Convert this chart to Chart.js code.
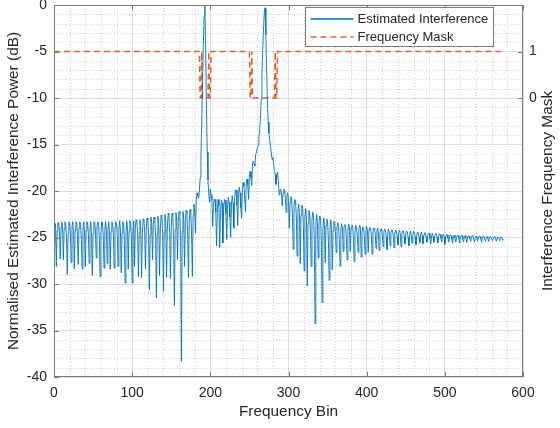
<!DOCTYPE html>
<html>
<head>
<meta charset="utf-8">
<script src="https://cdn.jsdelivr.net/npm/chart.js@4.4.1/dist/chart.umd.min.js"></script>
<style>
  html, body { margin: 0; padding: 0; background: #fff; }
  #wrap { width: 560px; height: 428px; }
</style>
</head>
<body>
<div id="wrap"><canvas id="chart"></canvas></div>
<script>
// estimated interference, one value per frequency bin (0..575)
const powerDb = [
  -25.8, -23.8, -23.5, -28.1, -24.3, -23.4, -23.4, -24.5, -27.3, -23.9, // 0
  -23.3, -24.2, -27.4, -24.1, -23.3, -23.5, -25.0, -29.0, -24.6, -23.3,
  -23.4, -24.6, -27.7, -23.8, -23.3, -24.4, -28.4, -24.2, -23.3, -23.4,
  -24.8, -27.9, -24.0, -23.3, -23.6, -25.2, -28.4, -24.2, -23.3, -24.3,
  -28.1, -24.3, -23.3, -23.4, -24.7, -27.8, -24.0, -23.3, -24.6, -29.1,
  -24.6, -23.4, -23.3, -24.3, -27.2, -23.8, -23.3, -23.5, -25.1, -29.2, // 50
  -24.6, -23.3, -23.4, -24.8, -28.3, -24.1, -23.3, -24.1, -27.8, -24.2,
  -23.3, -24.4, -28.4, -24.4, -23.3, -23.4, -24.8, -28.3, -24.1, -23.3,
  -23.5, -24.9, -28.1, -24.0, -23.2, -24.3, -28.8, -24.5, -23.3, -23.4,
  -25.3, -29.9, -24.7, -23.2, -24.0, -28.4, -24.3, -23.2, -23.3, -25.0,
  -29.9, -24.4, -23.2, -28.1, -24.0, -23.1, -23.2, -24.6, -29.2, -24.5, // 100
  -23.1, -24.2, -29.3, -24.6, -23.0, -23.1, -24.4, -28.4, -24.1, -22.9,
  -23.1, -24.9, -30.6, -24.7, -22.8, -23.5, -27.4, -23.6, -22.8, -23.0,
  -25.0, -31.5, -24.6, -22.7, -23.6, -29.1, -24.2, -22.6, -22.7, -24.6,
  -30.8, -24.4, -22.5, -23.4, -29.3, -24.0, -22.4, -22.6, -24.5, -29.4,
  -23.9, -22.4, -22.6, -25.2, -32.3, -24.2, -22.3, -23.1, -27.4, -23.3, // 150
  -22.2, -22.4, -25.4, -38.3, -24.4, -22.2, -23.0, -28.1, -23.5, -22.1,
  -22.3, -24.5, -29.3, -23.4, -22.0, -22.2, -24.7, -29.2, -22.6, -21.4,
  -22.2, -24.5, -21.0, -20.2, -20.5, -20.8, -20.0, -18.6, -16.0, -12.8,
  -8.5, -4.5, -1.2, 0.0, -4.5, -11.0, -15.8, -18.8, -20.4, -21.2,
  -19.8, -20.4, -21.0, -23.8, -21.5, -20.9, -20.9, -22.3, -25.9, -22.0, // 200
  -20.9, -21.6, -26.1, -22.3, -21.0, -21.3, -25.6, -22.0, -20.9, -21.0,
  -22.5, -25.2, -21.6, -20.7, -21.2, -22.8, -25.0, -21.4, -20.5, -21.3,
  -24.0, -20.8, -19.9, -19.9, -21.5, -23.7, -20.4, -19.6, -20.2, -21.8,
  -22.9, -19.8, -19.1, -19.5, -20.8, -22.2, -19.2, -18.7, -19.4, -20.9,
  -18.4, -17.9, -18.6, -19.4, -17.0, -16.8, -17.1, -17.3, -16.1, -15.8, // 250
  -15.4, -15.1, -14.4, -13.6, -12.2, -10.2, -7.6, -4.9, -2.6, -0.8,
  -0.3, -3.2, -7.0, -10.2, -12.6, -13.8, -14.6, -15.2, -15.9, -16.6,
  -16.4, -17.1, -17.9, -18.2, -19.3, -18.3, -18.0, -18.9, -20.4, -19.9,
  -19.8, -20.2, -21.6, -20.3, -19.8, -19.9, -20.8, -22.3, -20.6, -20.2,
  -20.9, -24.0, -21.2, -20.6, -20.8, -22.5, -26.3, -21.6, -20.9, -21.0, // 300
  -22.8, -27.0, -22.2, -21.4, -22.3, -27.8, -22.6, -21.5, -21.7, -23.6,
  -28.6, -22.9, -21.9, -23.0, -30.2, -23.5, -22.1, -22.3, -24.0, -28.1,
  -23.1, -22.3, -22.6, -25.2, -34.3, -23.7, -22.5, -23.5, -27.2, -23.4,
  -22.7, -22.9, -25.3, -32.0, -24.1, -22.9, -23.6, -27.7, -23.7, -23.0,
  -23.2, -25.2, -29.6, -24.2, -23.1, -23.8, -28.5, -24.3, -23.3, -23.3, // 350
  -24.4, -26.6, -23.9, -23.4, -23.7, -25.2, -28.1, -24.1, -23.5, -24.0,
  -26.5, -23.9, -23.6, -23.7, -25.0, -27.4, -24.2, -23.6, -23.9, -26.5,
  -24.0, -23.7, -23.7, -25.0, -27.6, -24.4, -23.7, -24.0, -24.8, -26.6,
  -24.1, -23.7, -24.0, -27.1, -24.5, -23.9, -23.9, -24.9, -26.8, -24.3,
  -23.8, -24.3, -26.6, -24.1, -23.9, -24.0, -24.7, -26.8, -24.5, -24.0, // 400
  -24.0, -24.6, -26.2, -24.3, -24.0, -24.5, -26.4, -24.5, -24.1, -24.1,
  -24.7, -26.0, -24.4, -24.1, -24.2, -24.9, -26.3, -24.5, -24.1, -24.5,
  -25.9, -24.5, -24.2, -24.2, -24.8, -26.1, -24.6, -24.2, -24.3, -24.9,
  -25.8, -24.5, -24.2, -24.6, -26.0, -24.6, -24.3, -24.3, -24.9, -25.7,
  -24.6, -24.3, -24.4, -25.0, -25.9, -24.7, -24.3, -24.7, -25.6, -24.7, // 450
  -24.35, -24.4, -24.9, -25.8, -24.8, -24.4, -24.5, -25.0, -25.6, -24.7,
  -24.4, -24.8, -25.7, -24.9, -24.5, -24.5, -24.9, -25.5, -24.8, -24.5,
  -24.6, -25.1, -25.7, -24.9, -24.55, -24.9, -25.5, -24.9, -24.6, -24.6,
  -25.0, -25.6, -24.9, -24.6, -24.7, -25.1, -25.5, -24.9, -24.65, -24.9,
  -25.75, -25.0, -24.7, -24.7, -25.1, -25.5, -24.9, -24.7, -24.8, -25.2, // 500
  -25.6, -25.0, -24.75, -25.0, -25.5, -25.0, -24.75, -24.8, -25.1, -25.6,
  -25.0, -24.75, -24.8, -25.2, -25.45, -25.0, -24.8, -25.0, -25.55, -25.0,
  -24.8, -24.85, -25.1, -25.4, -25.0, -24.8, -24.85, -25.2, -25.5, -25.0,
  -24.85, -25.0, -25.4, -25.05, -24.85, -24.9, -25.15, -25.5, -25.05, -24.85,
  -24.9, -25.2, -25.4, -25.0, -24.9, -25.05, -25.45, -25.1, -24.9, -24.9, // 550
  -25.15, -25.35, -25.05, -24.9, -24.95, -25.2, -25.4, -25.05, -24.95, -25.05,
  -25.35, -25.1, -24.95, -25.0, -25.3, -25.2
];

// frequency mask, given only where it changes (bin, value)
const maskBins   = [0, 186, 187, 188, 189, 190, 197, 198, 199, 200, 201, 250, 251, 252, 253, 254, 282, 283, 284, 285, 286, 575];
const maskValues = [1, 1,   0,   0,   1,   0,   0,   1,   0,   0,   1,   1,   0,   0,   1,   0,   0,   1,   0,   0,   1,   1];

const seriesLabels = ["Estimated Interference", "Frequency Mask"];
const maskTicks = [0, 1];
const xTitle = "Frequency Bin";
const yTitle = "Normalised Estimated Interference Power (dB)";
const y2Title = "Interference Frequency Mask";

const FONT = '"Liberation Sans", Arial, Helvetica, sans-serif';
const textColor = "#262626";
const axisColor = "#7a7a7a";
const seriesColors = ["#0072BD", "#E0642E"];
const seriesWidths = [0.9, 1.5];
const seriesDash = [[], [6, 4]];

const powerPoints = powerDb.map((v, i) => ({ x: i, y: v }));
const maskPoints = maskBins.map((b, i) => ({ x: b, y: maskValues[i] }));

// matlab-ish look: dotted minor grid, inward ticks, box, inner legend, right label
const matlabLook = {
  id: "matlabLook",
  beforeDatasetsDraw(chart) {
    const { ctx, chartArea: a, scales: { x, y } } = chart;
    ctx.save();
    ctx.strokeStyle = "rgba(38,38,38,0.22)";
    ctx.lineWidth = 1;
    ctx.setLineDash([1, 2]);
    ctx.beginPath();
    for (let v = 20; v < 600; v += 20) {
      if (v % 100 === 0) continue;
      const px = Math.round(x.getPixelForValue(v)) + 0.5;
      ctx.moveTo(px, a.top);
      ctx.lineTo(px, a.bottom);
    }
    for (let v = -39; v < 0; v++) {
      if (v % 5 === 0) continue;
      const py = Math.round(y.getPixelForValue(v)) + 0.5;
      ctx.moveTo(a.left, py);
      ctx.lineTo(a.right, py);
    }
    ctx.stroke();
    ctx.restore();
  },
  afterDatasetsDraw(chart) {
    const { ctx, chartArea: a, scales: { x, y, y2 } } = chart;
    const len = 5;
    ctx.save();
    ctx.strokeStyle = axisColor;
    ctx.lineWidth = 1;
    ctx.beginPath();
    x.ticks.forEach(t => {
      const px = Math.round(x.getPixelForValue(t.value)) + 0.5;
      ctx.moveTo(px, a.bottom); ctx.lineTo(px, a.bottom - len);
      ctx.moveTo(px, a.top); ctx.lineTo(px, a.top + len);
    });
    y.ticks.forEach(t => {
      const py = Math.round(y.getPixelForValue(t.value)) + 0.5;
      ctx.moveTo(a.left, py); ctx.lineTo(a.left + len, py);
    });
    y2.ticks.forEach(t => {
      const py = Math.round(y2.getPixelForValue(t.value)) + 0.5;
      ctx.moveTo(a.right, py); ctx.lineTo(a.right - len, py);
    });
    ctx.stroke();
    ctx.strokeRect(Math.round(a.left) + 0.5, Math.round(a.top) + 0.5,
      Math.round(a.right - a.left) - 1, Math.round(a.bottom - a.top) - 1);
    ctx.restore();
  },
  afterDraw(chart) {
    const { ctx, chartArea: a } = chart;
    ctx.save();
    // legend
    ctx.font = "13px " + FONT;
    const sets = chart.data.datasets;
    const textW = Math.max(...sets.map(d => ctx.measureText(d.label).width));
    const sample = 43, rowH = 17.5;
    const boxW = Math.round(5 + sample + 4 + textW + 5);
    const boxH = 39;
    const bx = Math.round(a.right - 30 - boxW) + 0.5;
    const by = Math.round(a.top + 2) + 0.5;
    ctx.fillStyle = "#fff";
    ctx.fillRect(bx, by, boxW, boxH);
    ctx.strokeStyle = axisColor;
    ctx.lineWidth = 1;
    ctx.strokeRect(bx, by, boxW, boxH);
    sets.forEach((d, i) => {
      const ry = Math.round(by + 11.5 + i * rowH);
      ctx.strokeStyle = seriesColors[i];
      ctx.lineWidth = 1.5;
      ctx.setLineDash(seriesDash[i]);
      ctx.beginPath();
      ctx.moveTo(bx + 5, ry);
      ctx.lineTo(bx + 5 + sample, ry);
      ctx.stroke();
      ctx.setLineDash([]);
      ctx.fillStyle = textColor;
      ctx.textAlign = "left";
      ctx.textBaseline = "middle";
      ctx.fillText(d.label, bx + 5 + sample + 4, ry);
    });
    // right axis title, reading upwards like the left one
    ctx.font = "15.4px " + FONT;
    ctx.fillStyle = textColor;
    ctx.translate(548, (a.top + a.bottom) / 2);
    ctx.rotate(-Math.PI / 2);
    ctx.textAlign = "center";
    ctx.textBaseline = "middle";
    ctx.fillText(y2Title, 0, 0);
    ctx.restore();
  }
};

const tickFont = { family: FONT, size: 14 };
const labelFont = { family: FONT, size: 15.4 };
const majorGrid = "#dfdfdf";

// keep tick labels from pushing the plot box around
function fixPadding(s) {
  s.paddingTop = 0;
  s.paddingBottom = 0;
  s.paddingLeft = 0;
  s.paddingRight = 0;
}

new Chart(document.getElementById("chart"), {
  type: "line",
  data: {
    datasets: [
      {
        label: seriesLabels[0],
        data: powerPoints,
        yAxisID: "y",
        borderColor: seriesColors[0],
        borderWidth: seriesWidths[0],
        pointRadius: 0,
        tension: 0,
        fill: false,
      },
      {
        label: seriesLabels[1],
        data: maskPoints,
        yAxisID: "y2",
        borderColor: seriesColors[1],
        borderWidth: seriesWidths[1],
        borderDash: seriesDash[1],
        pointRadius: 0,
        tension: 0,
        fill: false,
      },
    ],
  },
  options: {
    responsive: true,
    maintainAspectRatio: false,
    animation: false,
    devicePixelRatio: 1,
    layout: { padding: { top: 5, right: 0, bottom: 0, left: 0 } },
    plugins: {
      legend: { display: false },
      tooltip: { enabled: false },
    },
    scales: {
      x: {
        type: "linear",
        min: 0,
        max: 600,
        ticks: { stepSize: 100, padding: 8, color: textColor, font: tickFont, maxRotation: 0, callback: v => String(v) },
        grid: { color: majorGrid, drawTicks: false },
        border: { display: false },
        title: { display: true, text: xTitle, color: textColor, font: labelFont, padding: { top: 0, bottom: 7 } },
        afterFit: s => { fixPadding(s); s.height = 51; },
      },
      y: {
        position: "left",
        min: -40,
        max: 0,
        ticks: { stepSize: 5, padding: 7, color: textColor, font: tickFont, callback: v => String(v) },
        grid: { color: majorGrid, drawTicks: false },
        border: { display: false },
        title: { display: true, text: yTitle, color: textColor, font: labelFont, padding: { top: 5, bottom: 0 } },
        afterFit: s => { fixPadding(s); s.width = 54; },
      },
      y2: {
        position: "right",
        min: -6,
        max: 2,
        afterBuildTicks: s => { s.ticks = maskTicks.map(v => ({ value: v })); },
        ticks: { padding: 6, color: textColor, font: tickFont, callback: v => String(v) },
        grid: { drawOnChartArea: false, drawTicks: false },
        border: { display: false },
        afterFit: s => { fixPadding(s); s.width = 37; },
      },
    },
  },
  plugins: [matlabLook],
});
</script>
</body>
</html>
